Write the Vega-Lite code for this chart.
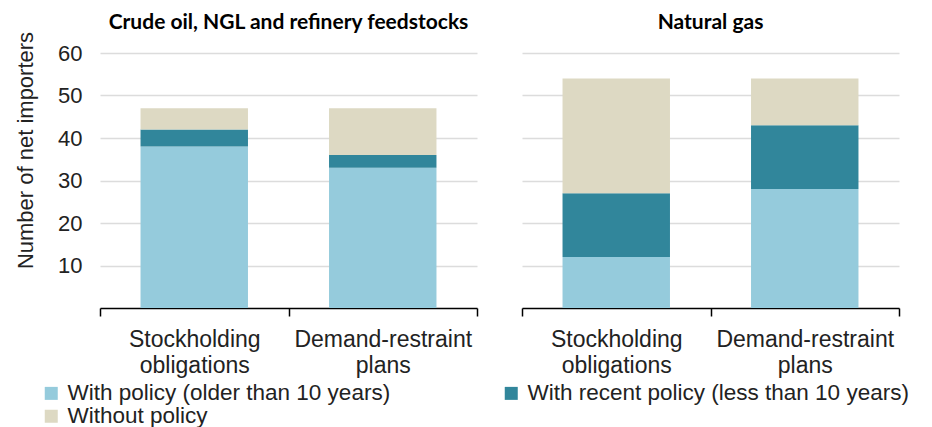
{
  "$schema": "https://vega.github.io/schema/vega-lite/v6.json",
  "padding": {"left": 14, "top": 12, "right": 5, "bottom": 5},
  "background": "white",
  "data": {
    "values": [
      {"panel": "Crude oil, NGL and refinery feedstocks", "measure": "Stockholding obligations", "status": "With policy (older than 10 years)", "value": 38, "ord": 1},
      {"panel": "Crude oil, NGL and refinery feedstocks", "measure": "Stockholding obligations", "status": "With recent policy (less than 10 years)", "value": 4, "ord": 2},
      {"panel": "Crude oil, NGL and refinery feedstocks", "measure": "Stockholding obligations", "status": "Without policy", "value": 5, "ord": 3},
      {"panel": "Crude oil, NGL and refinery feedstocks", "measure": "Demand-restraint plans", "status": "With policy (older than 10 years)", "value": 33, "ord": 1},
      {"panel": "Crude oil, NGL and refinery feedstocks", "measure": "Demand-restraint plans", "status": "With recent policy (less than 10 years)", "value": 3, "ord": 2},
      {"panel": "Crude oil, NGL and refinery feedstocks", "measure": "Demand-restraint plans", "status": "Without policy", "value": 11, "ord": 3},
      {"panel": "Natural gas", "measure": "Stockholding obligations", "status": "With policy (older than 10 years)", "value": 12, "ord": 1},
      {"panel": "Natural gas", "measure": "Stockholding obligations", "status": "With recent policy (less than 10 years)", "value": 15, "ord": 2},
      {"panel": "Natural gas", "measure": "Stockholding obligations", "status": "Without policy", "value": 27, "ord": 3},
      {"panel": "Natural gas", "measure": "Demand-restraint plans", "status": "With policy (older than 10 years)", "value": 28, "ord": 1},
      {"panel": "Natural gas", "measure": "Demand-restraint plans", "status": "With recent policy (less than 10 years)", "value": 15, "ord": 2},
      {"panel": "Natural gas", "measure": "Demand-restraint plans", "status": "Without policy", "value": 11, "ord": 3}
    ]
  },
  "facet": {
    "column": {
      "field": "panel",
      "type": "nominal",
      "sort": ["Crude oil, NGL and refinery feedstocks", "Natural gas"],
      "header": {
        "title": null,
        "labelFont": "Lato",
        "labelFontWeight": "bold",
        "labelFontSize": 21,
        "labelColor": "#000000",
        "labelPadding": 20
      }
    }
  },
  "spacing": 45,
  "spec": {
    "width": 377,
    "height": 255,
    "mark": {"type": "bar", "width": {"band": 0.57}},
    "encoding": {
      "x": {
        "field": "measure",
        "type": "nominal",
        "sort": ["Stockholding obligations", "Demand-restraint plans"],
        "scale": {"paddingInner": 0, "paddingOuter": 0},
        "axis": {
          "title": null,
          "labelAngle": 0,
          "labelFont": "Liberation Sans",
          "labelFontSize": 23,
          "labelColor": "#222222",
          "labelLineHeight": 26,
          "labelPadding": 12,
          "labelExpr": "datum.label == 'Stockholding obligations' ? ['Stockholding', 'obligations'] : (datum.label == 'Demand-restraint plans' ? ['Demand-restraint', 'plans'] : '')",
          "tickBand": "extent",
          "tickSize": 8,
          "tickColor": "#000000",
          "domainColor": "#000000",
          "domainWidth": 1.5,
          "tickWidth": 1.5
        }
      },
      "y": {
        "field": "value",
        "type": "quantitative",
        "stack": "zero",
        "scale": {"domain": [0, 60]},
        "axis": {
          "title": "Number of net importers",
          "titleFont": "Liberation Sans",
          "titleFontSize": 22,
          "titleFontWeight": "normal",
          "titleColor": "#222222",
          "titlePadding": 20,
          "titleY": 97,
          "values": [10, 20, 30, 40, 50, 60],
          "labelFont": "Liberation Sans",
          "labelFontSize": 22,
          "labelColor": "#222222",
          "labelPadding": 18,
          "domain": false,
          "ticks": false,
          "grid": true,
          "gridColor": "#dcdcdc",
          "gridWidth": 1.5
        }
      },
      "color": {
        "field": "status",
        "type": "nominal",
        "sort": ["With policy (older than 10 years)", "With recent policy (less than 10 years)", "Without policy"],
        "scale": {
          "domain": ["With policy (older than 10 years)", "With recent policy (less than 10 years)", "Without policy"],
          "range": ["#95CBDC", "#31869B", "#DDD9C3"]
        },
        "legend": {
          "title": null,
          "orient": "none",
          "legendX": -60,
          "legendY": 329,
          "direction": "horizontal",
          "columns": 2,
          "columnPadding": 109,
          "rowPadding": 0,
          "symbolType": "square",
          "symbolSize": 169,
          "symbolStrokeWidth": 0,
          "labelFont": "Liberation Sans",
          "labelFontSize": 22.5,
          "labelColor": "#222222",
          "labelLimit": 500,
          "labelOffset": 5
        }
      },
      "order": {"field": "ord", "type": "quantitative"}
    }
  },
  "config": {
    "view": {"stroke": null}
  }
}
